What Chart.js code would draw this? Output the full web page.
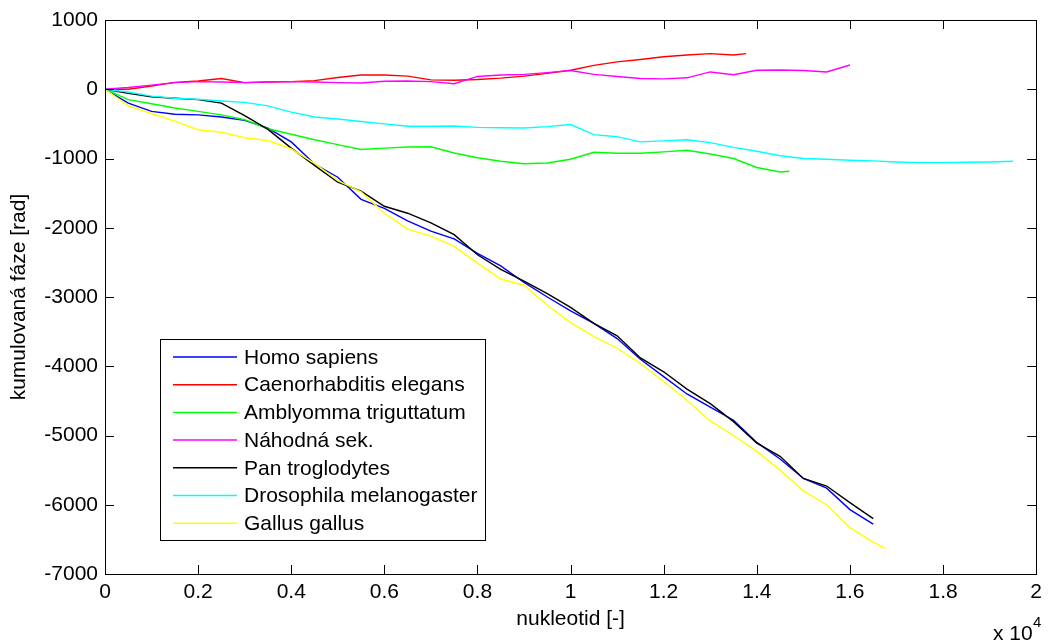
<!DOCTYPE html>
<html>
<head>
<meta charset="utf-8">
<script src="https://cdn.jsdelivr.net/npm/chart.js@4.4.1/dist/chart.umd.min.js"></script>
<style>
  body { margin: 0; background: #fff; }
  #wrap { width: 1048px; height: 640px; }
</style>
</head>
<body>
<div id="wrap"><canvas id="phase" width="1048" height="640"></canvas></div>
<script>
// positions along the sequence, every 500 nucleotides
const nucleotides = [
  0, 500, 1000, 1500, 2000, 2500, 3000, 3500, 4000, 4500,
  5000, 5500, 6000, 6500, 7000, 7500, 8000, 8500, 9000, 9500,
  10000, 10500, 11000, 11500, 12000, 12500, 13000, 13500, 14000, 14500,
  15000, 15500, 16000, 16500, 17000, 17500, 18000, 18500, 19000, 19500,
];

const labels = [
  "Homo sapiens",
  "Caenorhabditis elegans",
  "Amblyomma triguttatum",
  "Náhodná sek.",
  "Pan troglodytes",
  "Drosophila melanogaster",
  "Gallus gallus",
];
const colors = ["#0000ff", "#ff0000", "#00ff00", "#ff00ff", "#000000", "#00ffff", "#ffff00"];

// cumulative phase [rad], one value per grid step
const homoSapiens = [0, -200, -320, -360, -370, -400, -450, -560, -760, -1080, -1270, -1590, -1720, -1900, -2050, -2160, -2370, -2550, -2790, -3000, -3200, -3380, -3600, -3900, -4150, -4400, -4590, -4780, -5100, -5340, -5620, -5760, -6070, -6280];
const caenorhabditis = [0, 0, 47, 100, 120, 155, 95, 105, 110, 125, 170, 205, 205, 190, 135, 130, 140, 160, 190, 230, 275, 345, 395, 430, 470, 495, 515, 495, 515];
const amblyomma = [0, -150, -210, -270, -320, -370, -440, -570, -650, -730, -800, -870, -850, -835, -830, -920, -990, -1040, -1075, -1065, -1010, -910, -925, -925, -905, -880, -935, -1000, -1130, -1195, -1185];
const nahodna = [0, 25, 60, 95, 110, 105, 95, 105, 110, 105, 95, 90, 115, 120, 110, 80, 185, 205, 215, 240, 270, 215, 185, 155, 150, 165, 250, 210, 275, 278, 270, 250, 350];
const panTroglodytes = [0, -60, -110, -130, -150, -200, -380, -580, -850, -1100, -1340, -1470, -1690, -1790, -1930, -2100, -2390, -2600, -2770, -2950, -3150, -3380, -3560, -3880, -4080, -4330, -4540, -4800, -5110, -5300, -5620, -5730, -5970, -6200];
const drosophila = [0, -40, -100, -130, -145, -170, -190, -240, -330, -400, -430, -465, -500, -535, -535, -530, -550, -555, -560, -540, -510, -655, -685, -760, -745, -730, -770, -840, -895, -960, -1000, -1010, -1025, -1035, -1050, -1060, -1060, -1055, -1050, -1040];
const gallus = [0, -240, -350, -460, -585, -620, -700, -740, -860, -1070, -1320, -1480, -1790, -2020, -2120, -2270, -2510, -2740, -2830, -3120, -3370, -3570, -3740, -3960, -4220, -4490, -4790, -5000, -5230, -5500, -5800, -6000, -6330, -6540, -6630];

// where a sequence ends between grid steps, its last value sits here
const seriesEnd = [null, 13770, 14700, null, null, null, 16760];

const xTicks = ["0", "0.2", "0.4", "0.6", "0.8", "1", "1.2", "1.4", "1.6", "1.8", "2"];
const yTicks = [-7000, -6000, -5000, -4000, -3000, -2000, -1000, 0, 1000];

const series = [homoSapiens, caenorhabditis, amblyomma, nahodna, panTroglodytes, drosophila, gallus];

function toPoints(ys, endX) {
  return ys.map((y, i) => ({
    x: endX && i === ys.length - 1 ? endX : nucleotides[i],
    y: y,
  }));
}

const FONT = "'Liberation Sans', Arial, Helvetica, sans-serif";
const FSIZE = 21;

// matlab style box with inward ticks
const frame = {
  id: "frame",
  afterDraw(chart) {
    const { ctx, chartArea: a, scales } = chart;
    const len = 9;
    ctx.save();
    ctx.strokeStyle = "#000";
    ctx.lineWidth = 1;
    ctx.beginPath();
    scales.x.ticks.forEach((t) => {
      const px = Math.round(scales.x.getPixelForValue(t.value)) + 0.5;
      ctx.moveTo(px, a.bottom);
      ctx.lineTo(px, a.bottom - len);
      ctx.moveTo(px, a.top);
      ctx.lineTo(px, a.top + len);
    });
    scales.y.ticks.forEach((t) => {
      const py = Math.round(scales.y.getPixelForValue(t.value)) + 0.5;
      ctx.moveTo(a.left, py);
      ctx.lineTo(a.left + len, py);
      ctx.moveTo(a.right, py);
      ctx.lineTo(a.right - len, py);
    });
    ctx.stroke();
    ctx.strokeRect(Math.round(a.left) + 0.5, Math.round(a.top) + 0.5,
      Math.round(a.right - a.left), Math.round(a.bottom - a.top));

    // exponent of the x axis
    ctx.fillStyle = "#000";
    ctx.textBaseline = "alphabetic";
    ctx.textAlign = "left";
    ctx.font = FSIZE + "px " + FONT;
    ctx.fillText("x 10", 993, 640);
    ctx.font = "15px " + FONT;
    ctx.fillText("4", 1033, 627);
    ctx.restore();
  },
};

const boxLegend = {
  id: "boxLegend",
  afterDatasetsDraw(chart) {
    const ctx = chart.ctx;
    const left = 160, top = 339, w = 325, h = 201;
    ctx.save();
    ctx.fillStyle = "#fff";
    ctx.fillRect(left, top, w, h);
    ctx.strokeStyle = "#000";
    ctx.lineWidth = 1;
    ctx.strokeRect(left + 0.5, top + 0.5, w, h);
    ctx.font = FSIZE + "px " + FONT;
    ctx.textBaseline = "middle";
    ctx.textAlign = "left";
    labels.forEach((name, i) => {
      const y = 357 + i * 27.7;
      ctx.strokeStyle = colors[i];
      ctx.lineWidth = 1.5;
      ctx.beginPath();
      ctx.moveTo(173, y);
      ctx.lineTo(237, y);
      ctx.stroke();
      ctx.fillStyle = "#000";
      ctx.fillText(name, 244, y + 1);
    });
    ctx.restore();
  },
};

new Chart(document.getElementById("phase"), {
  type: "line",
  data: {
    datasets: series.map((ys, i) => ({
      label: labels[i],
      data: toPoints(ys, seriesEnd[i]),
      borderColor: colors[i],
      backgroundColor: colors[i],
      borderWidth: 1.4,
      pointRadius: 0,
      tension: 0,
      fill: false,
      order: series.length - 1 - i,
    })),
  },
  options: {
    responsive: false,
    animation: false,
    events: [],
    layout: { padding: { left: 0, right: 6, top: 20, bottom: 0 } },
    plugins: {
      legend: { display: false },
      tooltip: { enabled: false },
    },
    scales: {
      x: {
        type: "linear",
        min: 0,
        max: 20000,
        afterFit: (s) => { s.height = 66; },
        afterBuildTicks: (s) => {
          s.ticks = xTicks.map((t) => ({ value: Number(t) * 10000 }));
        },
        grid: { display: false, drawTicks: false },
        border: { display: false },
        ticks: {
          color: "#000",
          padding: 6,
          maxRotation: 0,
          autoSkip: false,
          font: { family: FONT, size: FSIZE },
          callback: (v) => xTicks[Math.round(v / 2000)],
        },
        title: {
          display: true,
          text: "nukleotid [-]",
          color: "#000",
          font: { family: FONT, size: FSIZE },
          padding: { top: 0, bottom: 8 },
        },
      },
      y: {
        min: -7000,
        max: 1000,
        afterFit: (s) => { s.width = 105; },
        afterBuildTicks: (s) => {
          s.ticks = yTicks.map((v) => ({ value: v }));
        },
        grid: { display: false, drawTicks: false },
        border: { display: false },
        ticks: {
          color: "#000",
          padding: 7,
          autoSkip: false,
          font: { family: FONT, size: FSIZE },
          callback: (v) => String(v),
        },
        title: {
          display: true,
          text: "kumulovaná fáze [rad]",
          color: "#000",
          font: { family: FONT, size: FSIZE },
          padding: { top: 7, bottom: 0 },
        },
      },
    },
  },
  plugins: [boxLegend, frame],
});
</script>
</body>
</html>
